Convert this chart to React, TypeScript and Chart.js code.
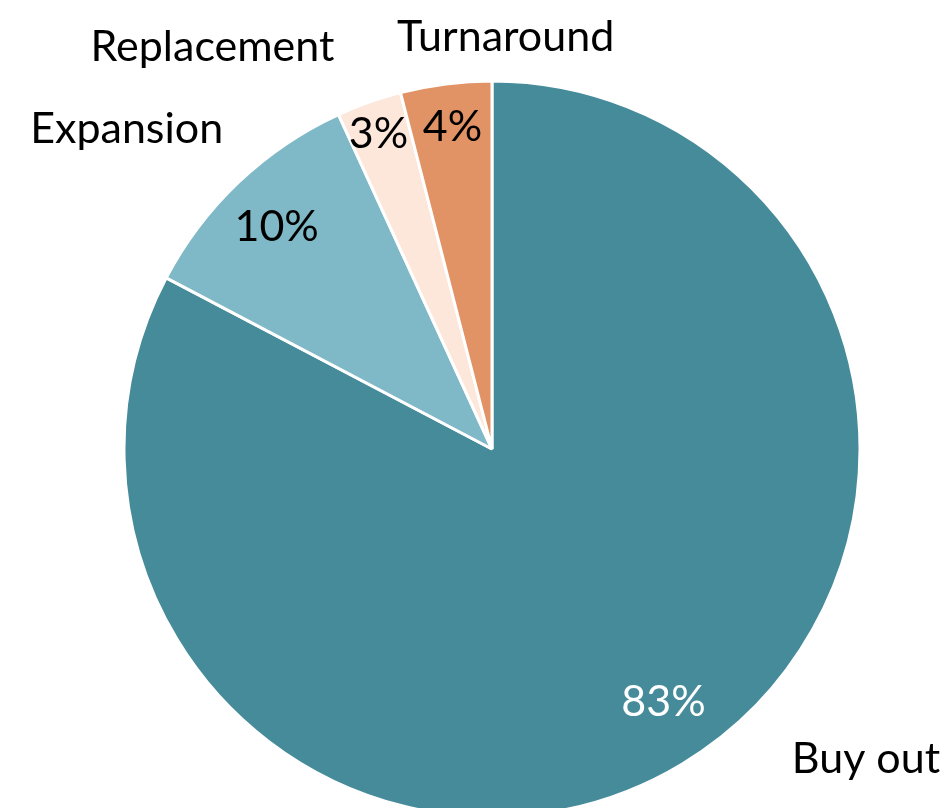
import React, { useEffect, useRef } from "react";
import { Chart, registerables } from "chart.js";

Chart.register(...registerables);

const categories = ["Buy out", "Expansion", "Replacement", "Turnaround"];
const shares = [82.7, 10.45, 2.85, 4.0];
const colors = ["#458B9A", "#7FB8C6", "#FCE7DA", "#E29366"];
const valueTextColors = ["#FFFFFF", "#000000", "#000000", "#000000"];

// label placement relative to each slice (angle offset in degrees, radius factor)
const valueLabelPlacement = [
  { dAngle: -3, factor: 0.83 },
  { dAngle: -0.7, factor: 0.84 },
  { dAngle: -0.3, factor: 0.91 },
  { dAngle: 0.2, factor: 0.88 },
];
const categoryLabelPlacement = [
  { dAngle: -19.2, factor: 1.32 },
  { dAngle: -5.3, factor: 1.32 },
  { dAngle: -15.3, factor: 1.33 },
  { dAngle: 9.1, factor: 1.12 },
];

const FONT = "Lato, 'Open Sans', sans-serif";

const labelPlugin = {
  id: "pieLabels",
  afterDatasetsDraw(chart: any) {
    const ctx = chart.ctx;
    const meta = chart.getDatasetMeta(0);
    const data = chart.data.datasets[0].data as number[];
    const total = data.reduce((a, b) => a + b, 0);
    ctx.save();
    ctx.textAlign = "center";
    ctx.textBaseline = "middle";
    meta.data.forEach((arc: any, i: number) => {
      const { x, y, startAngle, endAngle, outerRadius } = arc.getProps(
        ["x", "y", "startAngle", "endAngle", "outerRadius"],
        true
      );
      const mid = (startAngle + endAngle) / 2;
      const pct = Math.round((data[i] / total) * 100) + "%";
      const vp = valueLabelPlacement[i];
      const va = mid + (vp.dAngle * Math.PI) / 180;
      ctx.font = `43px ${FONT}`;
      ctx.fillStyle = valueTextColors[i];
      ctx.fillText(pct, x + Math.cos(va) * outerRadius * vp.factor, y + Math.sin(va) * outerRadius * vp.factor);
      const cp = categoryLabelPlacement[i];
      const ca = mid + (cp.dAngle * Math.PI) / 180;
      ctx.fillStyle = "#000000";
      ctx.fillText(
        chart.data.labels[i],
        x + Math.cos(ca) * outerRadius * cp.factor,
        y + Math.sin(ca) * outerRadius * cp.factor
      );
    });
    ctx.restore();
  },
};

export default function App() {
  const canvasRef = useRef<HTMLCanvasElement | null>(null);

  useEffect(() => {
    if (!canvasRef.current) return;
    const chart = new Chart(canvasRef.current, {
      type: "pie",
      data: {
        labels: categories,
        datasets: [
          {
            data: shares,
            backgroundColor: colors,
            borderColor: "#FFFFFF",
            borderWidth: 3,
            radius: 368,
          } as any,
        ],
      },
      options: {
        responsive: false,
        animation: false,
        layout: { padding: { left: 34, top: 90, right: 0, bottom: 0 } },
        plugins: {
          legend: { display: false },
          tooltip: { enabled: false },
        },
      },
      plugins: [labelPlugin],
    });
    return () => chart.destroy();
  }, []);

  return (
    <div style={{ position: "absolute", left: 0, top: 0, width: 950, height: 808, overflow: "hidden", background: "#fff" }}>
      <canvas ref={canvasRef} width={950} height={808} style={{ display: "block" }} />
    </div>
  );
}
